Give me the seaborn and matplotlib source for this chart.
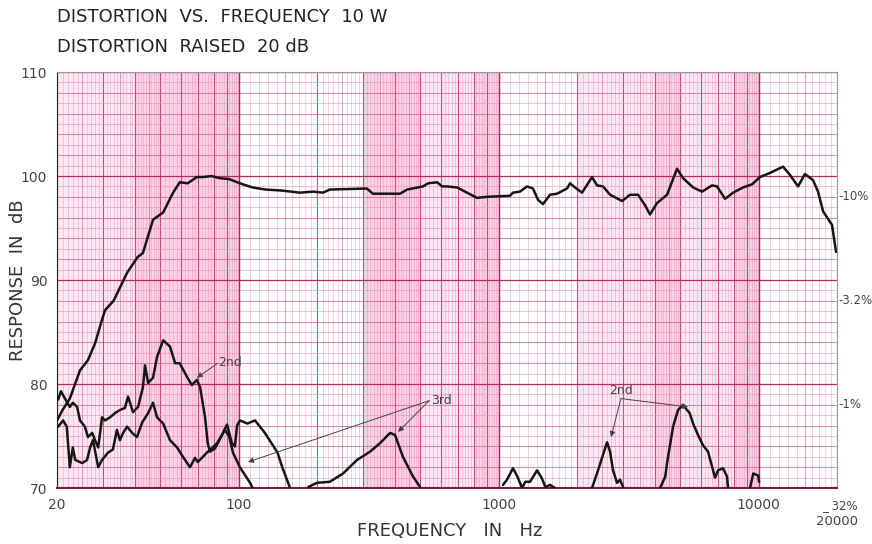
import matplotlib
matplotlib.use('Agg')
import matplotlib.pyplot as plt
import numpy as np
import pandas as pd
import seaborn as sns

# ---- data (Hz, dB) ----
resp_f = [20, 21, 22.4, 24.5, 26.3, 28, 29.8, 30.6, 33, 37.2, 40.8, 42.8, 46.8, 51.2, 55.9, 59.3,
          63.6, 69, 72.6, 78.6, 84.2, 92, 101, 113, 127, 147, 172, 193, 211, 224, 311, 328, 417,
          444, 511, 535, 579, 605, 632, 691, 755, 825, 901, 1105, 1134, 1207, 1284, 1354, 1416,
          1480, 1575, 1676, 1830, 1880, 1965, 2091, 2284, 2388, 2518, 2679, 2980, 3198, 3433,
          3651, 3817, 4062, 4439, 4849, 5113, 5588, 6052, 6612, 6912, 7420, 7962, 8700, 9422,
          10110, 11050, 12400, 13190, 14160, 15060, 16170, 16900, 17680, 19130, 19830]
resp_db = [76.5, 77.5, 78.6, 81.3, 82.3, 83.9, 86.2, 87.1, 88.0, 90.7, 92.2, 92.6, 95.8, 96.5, 98.4,
           99.4, 99.3, 99.9, 99.9, 100.0, 99.8, 99.7, 99.3, 98.9, 98.7, 98.6, 98.4, 98.5, 98.4,
           98.7, 98.8, 98.3, 98.3, 98.7, 99.0, 99.3, 99.4, 99.0, 99.0, 98.9, 98.4, 97.9, 98.0,
           98.1, 98.4, 98.5, 99.0, 98.8, 97.7, 97.3, 98.2, 98.3, 98.8, 99.3, 98.9, 98.4, 99.9,
           99.1, 99.0, 98.2, 97.6, 98.2, 98.2, 97.2, 96.3, 97.4, 98.2, 100.7, 99.8, 98.9, 98.5,
           99.1, 99.0, 97.8, 98.4, 98.9, 99.2, 99.9, 100.3, 100.9, 100.1, 99.0, 100.2, 99.6,
           98.5, 96.6, 95.3, 92.7]

# 2nd harmonic, low frequencies
h2_low_f = [20.2, 20.7, 21.8, 22.4, 23.0, 23.9, 24.5, 25.6, 26.3, 27.3, 28.0, 28.8, 29.8, 30.6,
            32.0, 33.4, 34.9, 36.5, 37.5, 39.2, 41.0, 42.8, 43.6, 44.8, 46.8, 48.5, 51.2, 54.4,
            56.9, 59.3, 63.2, 66.0, 69.0, 71.0, 74.2, 76.0, 77.5, 81.0, 86.2, 90.1, 94.2, 96.6,
            98.5, 101, 108, 115.5, 126, 141, 147, 157]
h2_low_db = [78.5, 79.3, 78.3, 77.8, 78.2, 77.8, 76.5, 75.9, 74.9, 75.3, 74.6, 73.9, 76.8, 76.5,
             76.8, 77.2, 77.5, 77.7, 78.8, 77.3, 77.8, 79.7, 81.8, 80.1, 80.6, 82.6, 84.2, 83.6,
             82.0, 82.0, 80.7, 79.9, 80.4, 79.7, 76.8, 74.3, 73.5, 73.8, 75.1, 76.1, 74.3, 74.0,
             76.0, 76.5, 76.2, 76.5, 75.3, 73.4, 72.0, 70.1]

# 3rd harmonic, low frequencies
h3_low_f = [20.2, 21.1, 21.8, 22.4, 23.0, 23.5, 25.0, 26.1, 26.8, 27.5, 28.8, 29.8, 31.4, 32.8,
            34.0, 34.9, 35.9, 37.2, 38.9, 40.6, 42.5, 44.8, 46.8, 48.5, 51.2, 54.4, 57.9, 61.0,
            64.9, 67.9, 69.6, 75.4, 82.5, 88.5, 92.0, 95.0, 101, 110.5, 113]
h3_low_db = [75.9, 76.5, 75.9, 72.0, 73.9, 72.7, 72.4, 72.7, 73.9, 74.6, 72.0, 72.7, 73.4, 73.7,
             75.6, 74.6, 75.3, 75.9, 75.3, 74.9, 76.3, 77.2, 78.2, 76.8, 76.2, 74.6, 73.9, 73.0,
             72.0, 72.9, 72.5, 73.4, 74.3, 75.6, 74.9, 73.4, 72.0, 70.5, 70.0]

# 3rd harmonic hump around 400 Hz
h3_mid_f = [185, 200, 224, 252, 285, 320, 349, 382, 399, 428, 468, 498]
h3_mid_db = [70.1, 70.5, 70.6, 71.4, 72.7, 73.5, 74.3, 75.3, 75.1, 73.0, 71.1, 70.1]

# small bumps 1-1.6 kHz
blip_f = [1038, 1076, 1134, 1174, 1230, 1264, 1319, 1404, 1467, 1511, 1575, 1646]
blip_db = [70.3, 70.8, 71.9, 71.2, 70.0, 70.6, 70.6, 71.7, 70.9, 70.1, 70.3, 70.0]

# 2nd harmonic, high frequencies
h2_a_f = [2284, 2409, 2609, 2679, 2751, 2850, 2927, 3006]
h2_a_db = [70.0, 71.7, 74.4, 73.5, 71.7, 70.5, 70.8, 70.1]
h2_b_f = [4172, 4369, 4439, 4681, 4893, 5113, 5299, 5423, 5588, 5841, 6105, 6381, 6671, 6790,
          6973, 7287, 7550, 7617]
h2_b_db = [70.0, 71.1, 72.4, 75.9, 77.5, 78.0, 77.5, 77.2, 76.2, 75.1, 74.1, 73.5, 71.7, 71.0,
           71.7, 71.9, 71.1, 70.0]
h2_c_f = [9256, 9527, 9943, 10030]
h2_c_db = [70.0, 71.4, 71.2, 70.6]

curves = [
    ('response', resp_f, resp_db),
    ('2nd low', h2_low_f, h2_low_db),
    ('3rd low', h3_low_f, h3_low_db),
    ('3rd mid', h3_mid_f, h3_mid_db),
    ('blips', blip_f, blip_db),
    ('2nd a', h2_a_f, h2_a_db),
    ('2nd b', h2_b_f, h2_b_db),
    ('2nd c', h2_c_f, h2_c_db),
]

sns.set_style('white')
plt.rcParams['font.family'] = ['DejaVu Sans']

fig = plt.figure(figsize=(8.72, 5.44), dpi=100)
ax = fig.add_axes([0.0654, 0.1029, 0.8945, 0.7647])

# graph paper shading
light = '#fde8f1'
dark = '#fad2e4'
for a, b, c in [(20, 100, light), (40, 100, dark), (300, 1000, light), (300, 500, dark),
                (800, 1000, dark), (2000, 10000, light), (4000, 5000, dark), (8000, 10000, dark)]:
    ax.axvspan(a, b, color=c, lw=0, zorder=0)

# vertical grid lines of the log paper
for dec in [10, 100, 1000, 10000]:
    for m in np.arange(1.0, 10.0, 0.1):
        f = dec * m
        if f < 20 or f > 20000:
            continue
        if m >= 5 and round(m * 10) % 2 == 1:
            continue
        if abs(m - round(m)) < 1e-6:
            ax.axvline(f, color='#c8306a', lw=0.8, alpha=0.85, zorder=1)
        elif abs(m * 2 - round(m * 2)) < 1e-6:
            ax.axvline(f, color='#e0609a', lw=0.6, alpha=0.7, zorder=1)
        else:
            ax.axvline(f, color='#ef92bb', lw=0.45, alpha=0.7, zorder=1)
for d in range(70, 111):
    if d % 10 == 0:
        ax.axhline(d, color='#b82a62', lw=0.9, zorder=1)
    elif d % 2 == 0:
        ax.axhline(d, color='#d9508c', lw=0.6, alpha=0.8, zorder=1)
    else:
        ax.axhline(d, color='#ec8cb6', lw=0.5, alpha=0.8, zorder=1)
for f in [100, 1000, 10000]:
    ax.axvline(f, color='#b0245a', lw=1.0, zorder=1)

for name, fx, dbs in curves:
    df = pd.DataFrame({'freq': fx, 'db': dbs})
    sns.lineplot(data=df, x='freq', y='db', ax=ax, color='#151515', lw=1.8,
                 estimator=None, sort=False, zorder=3)

ax.set_xscale('log')
ax.set_xlim(20, 20000)
ax.set_ylim(70, 110)
ax.set_xticks([20, 100, 1000, 10000])
ax.set_xticklabels(['20', '100', '1000', '10000'])
ax.xaxis.set_minor_locator(matplotlib.ticker.NullLocator())
ax.set_yticks([70, 80, 90, 100, 110])
ax.tick_params(axis='both', labelsize=10, colors='#444444', length=3, pad=4)
ax.set_xlabel('')
ax.set_ylabel('')
fig.text(450 / 872, 1 - 531 / 544, 'FREQUENCY   IN   Hz', fontsize=13, color='#333333',
         ha='center', va='center')
fig.text(18 / 872, 1 - 280 / 544, 'RESPONSE  IN  dB', fontsize=13, color='#333333',
         ha='center', va='center', rotation=90)

for side in ['top', 'right']:
    ax.spines[side].set_color('#999999')
    ax.spines[side].set_linewidth(0.8)
ax.spines['left'].set_color('#222222')
ax.spines['bottom'].set_color('#7a1a40')
ax.spines['bottom'].set_linewidth(1.5)

# right-hand distortion scale
for d, lab in [(98, '-10%'), (88, '-3.2%'), (78, '-1%')]:
    ax.text(20300, d, lab, fontsize=8.5, color='#444444', va='center', ha='left', clip_on=False)
ax.text(17500, 68.3, '_ 32%', fontsize=8.5, color='#444444', va='center', ha='left', clip_on=False)
ax.text(20000, 66.8, '20000', fontsize=9.5, color='#444444', va='center', ha='center', clip_on=False)

# harmonic labels with pointers
arrow = dict(arrowstyle='-|>', color='#444444', lw=0.7, mutation_scale=8, shrinkA=0, shrinkB=0)
ax.annotate('', xy=(69, 80.6), xytext=(83, 82.0), arrowprops=arrow, zorder=4)
ax.text(83, 82.1, '2nd', fontsize=9, color='#444444', va='center', ha='left', zorder=4)
ax.annotate('', xy=(108.5, 72.5), xytext=(540, 78.4), arrowprops=arrow, zorder=4)
ax.annotate('', xy=(410, 75.4), xytext=(540, 78.4), arrowprops=arrow, zorder=4)
ax.text(550, 78.4, '3rd', fontsize=9, color='#444444', va='center', ha='left', zorder=4)
ax.annotate('', xy=(2703, 74.9), xytext=(2950, 78.6), arrowprops=arrow, zorder=4)
ax.annotate('', xy=(5346, 77.8), xytext=(2950, 78.6), arrowprops=arrow, zorder=4)
ax.text(2950, 79.4, '2nd', fontsize=9, color='#444444', va='center', ha='center', zorder=4)

fig.text(57 / 872, 1 - 17 / 544, 'DISTORTION  VS.  FREQUENCY  10 W', fontsize=13,
         color='#222222', va='center', ha='left')
fig.text(57 / 872, 1 - 47 / 544, 'DISTORTION  RAISED  20 dB', fontsize=13,
         color='#222222', va='center', ha='left')

fig.savefig('out.png', dpi=100)
